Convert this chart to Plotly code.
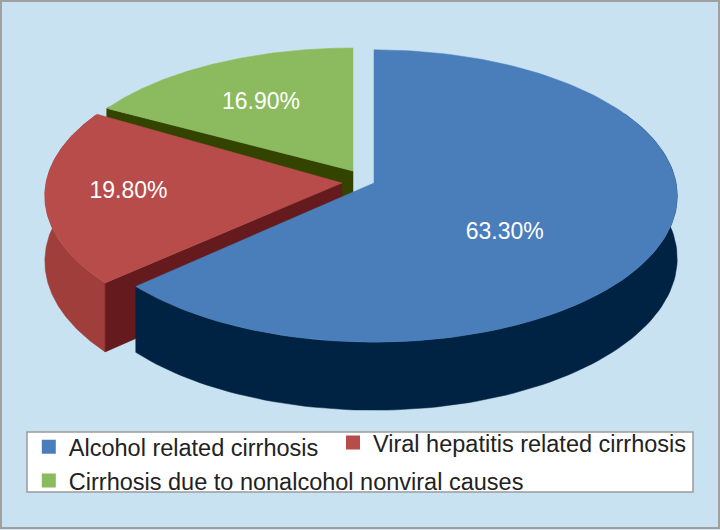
import numpy as np
import plotly.graph_objects as go

categories = ["Alcohol related cirrhosis", "Viral hepatitis related cirrhosis",
              "Cirrhosis due to nonalcohol nonviral causes"]
shares = [63.3, 19.8, 16.9]

top_colors = ["#4a7ebb", "#b84c4a", "#8cba5e"]
outer_colors = ["#002344", "#9f3e3b", "#334300"]
inner_colors = ["#002344", "#651a1d", "#334300"]
paper = "#c9e2f1"
FONT = "Liberation Sans, Arial, sans-serif"

# explosion apex, projected radii, view rotation and thickness for each slice
apex_x = [374, 342, 353]
apex_y = [183, 183, 171]
radius_x = [302, 296, 294]
radius_y = [145, 143, 134]
slice_rot = [0.0, 1.0, 0.0]
slice_depth = [62, 65, 62]
PERSP = 0.089
label_r = [0.54, 0.72, 0.62]
label_shift = [15, 0.5, -1.5]


def project(i, theta_deg, r=1.0, depth=0.0):
    t = np.radians(np.asarray(theta_deg, dtype=float) + slice_rot[i])
    X, Y = r * np.sin(t), r * np.cos(t)
    w = 1 + PERSP * Y
    return apex_x[i] + radius_x[i] * X / w, apex_y[i] - radius_y[i] * Y / w + depth / w


def poly(xs, ys, color, name=None):
    return go.Scatter(x=np.r_[xs, xs[0]], y=np.r_[ys, ys[0]], mode="lines", fill="toself",
                      fillcolor=color, line=dict(color=color, width=0.5),
                      hoverinfo="skip", showlegend=False, name=name)


edges = np.r_[0, np.cumsum(shares)] * 3.6
fig = go.Figure()

for i in [2, 1, 0]:
    a0, a1 = edges[i], edges[i + 1]
    arc = np.linspace(a0, a1, 160)
    tx, ty = project(i, arc)
    # outer wall: only the part of the rim that faces the viewer
    rim = arc[np.cos(np.radians(arc + slice_rot[i])) < 0.5]
    if rim.size > 1:
        rx0, ry0 = project(i, rim)
        rx1, ry1 = project(i, rim, depth=slice_depth[i])
        fig.add_trace(poly(np.r_[rx0, rx1[::-1]], np.r_[ry0, ry1[::-1]], outer_colors[i]))
    # inner cut wall facing the viewer (start edge of the slice, running to the apex)
    ax, ay = apex_x[i], apex_y[i]
    if i in (1, 2):
        ex, ey = project(i, a0)
        w_end = 1 + PERSP * np.cos(np.radians(a0 + slice_rot[i]))
        fig.add_trace(poly(np.array([ax, ex, ex, ax]),
                           np.array([ay, ey, ey + slice_depth[i] / w_end, ay + slice_depth[i]]),
                           inner_colors[i]))
    # top face
    fig.add_trace(poly(np.r_[ax, tx], np.r_[ay, ty], top_colors[i], categories[i]))

# percentage labels
for i, v in enumerate(shares):
    mid = (edges[i] + edges[i + 1]) / 2 + label_shift[i]
    lx, ly = project(i, mid, r=label_r[i])
    fig.add_trace(go.Scatter(x=[lx], y=[ly], mode="text", text=[f"{v:.2f}%"],
                             textposition="middle center", hoverinfo="skip", showlegend=False,
                             textfont=dict(family=FONT, size=23, color="white")))

# legend entries: two legends, so the second column can sit where the reference has it
legend_of = ["legend", "legend2", "legend"]
for i, c in enumerate(categories):
    fig.add_trace(go.Scatter(x=[None], y=[None], mode="markers", name=c, legend=legend_of[i],
                             marker=dict(symbol="square", size=14, color=top_colors[i])))

legend_font = dict(family=FONT, size=23.5, color="#222222")
fig.update_layout(
    width=720, height=530, margin=dict(l=0, r=0, t=0, b=0),
    paper_bgcolor=paper, plot_bgcolor=paper,
    xaxis=dict(range=[0, 720], visible=False, fixedrange=True),
    yaxis=dict(range=[530, 0], visible=False, fixedrange=True),
    legend=dict(x=0.04, y=0.198, xanchor="left", yanchor="top", bgcolor="rgba(0,0,0,0)",
                itemclick=False, itemdoubleclick=False, font=legend_font),
    legend2=dict(x=0.4625, y=0.206, xanchor="left", yanchor="top", bgcolor="rgba(0,0,0,0)",
                 itemclick=False, itemdoubleclick=False, font=legend_font),
    shapes=[
        dict(type="rect", xref="x", yref="y", x0=27, x1=693, y0=432, y1=492,
             fillcolor="white", line=dict(color="#9a9a9a", width=1.5), layer="below"),
        dict(type="rect", xref="x", yref="y", x0=1, x1=719, y0=1, y1=528,
             fillcolor="rgba(0,0,0,0)", line=dict(color="#a0a0a0", width=2), layer="below"),
    ],
)

fig.write_html("out.html", config={"displayModeBar": False},
               post_script="document.body.style.margin='0';")
